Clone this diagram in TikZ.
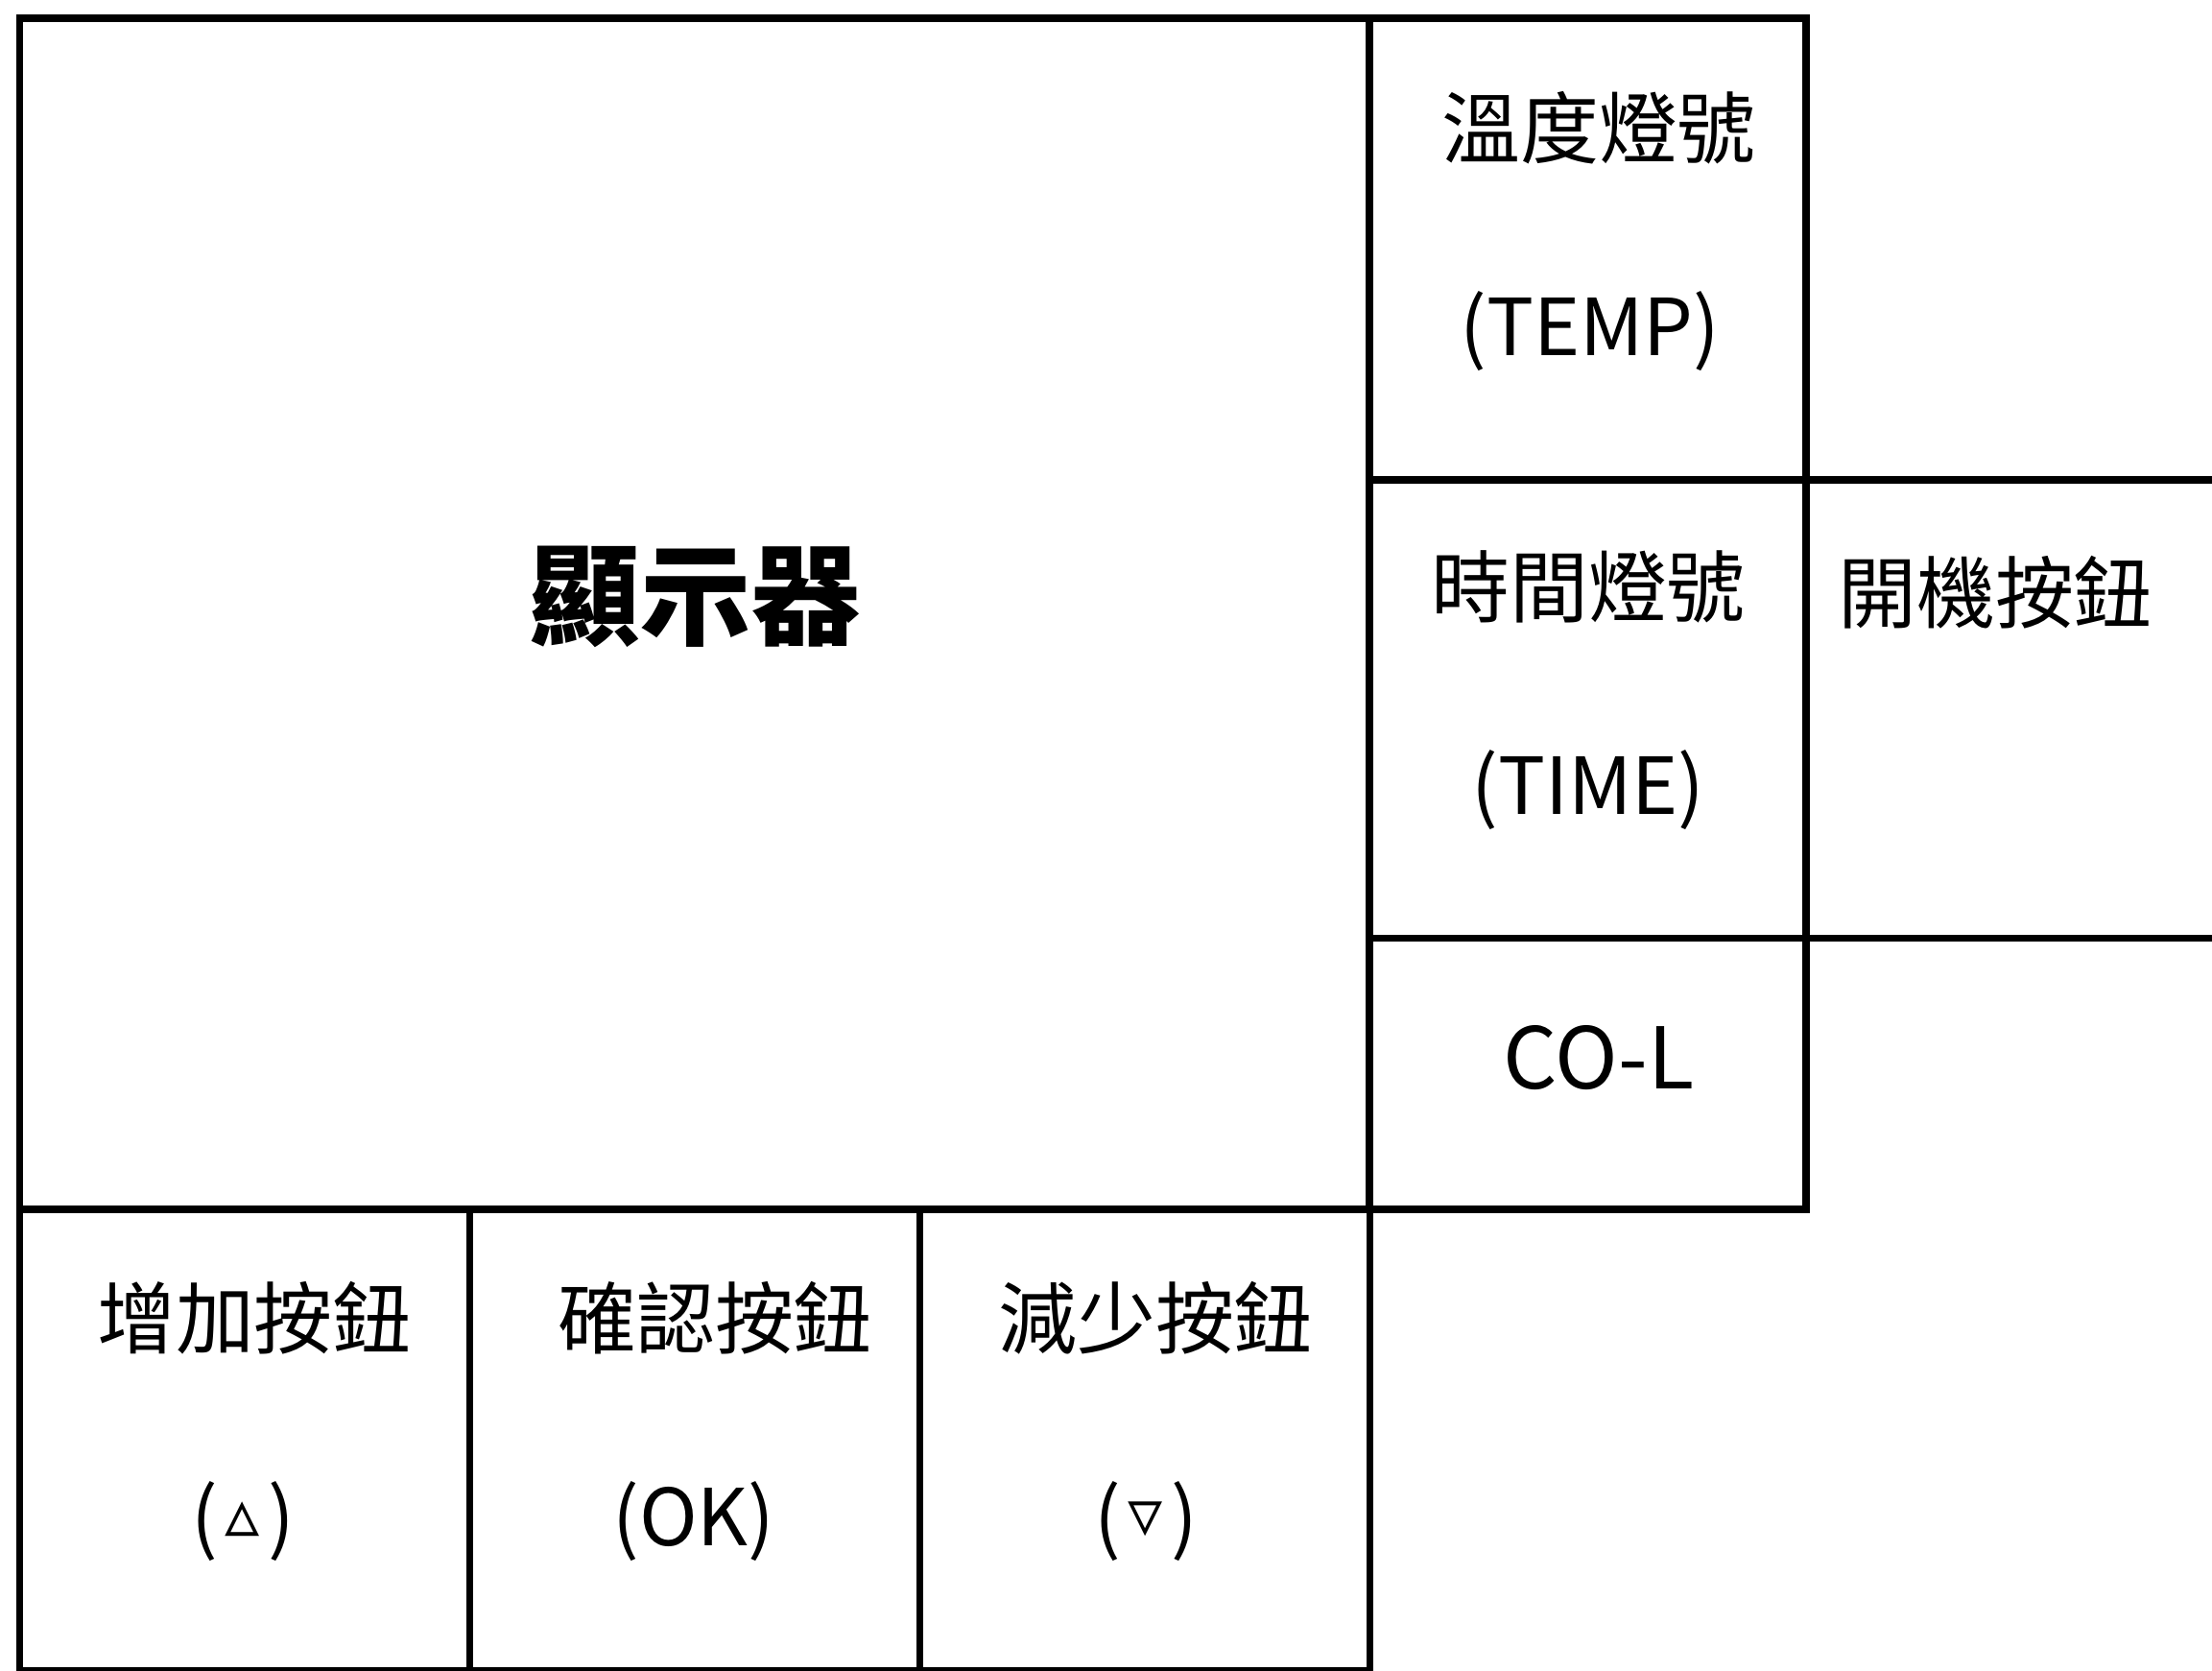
\documentclass[tikz,border=0pt]{standalone}
\usepackage{fontspec}
\setmainfont{Noto Sans CJK TC}
\newfontfamily\symfont{DejaVu Sans}
\newcommand{\smalltri}[1]{\hspace{0.08cm}\raisebox{0.12em}{\symfont\fontsize{20.5}{20.5}\selectfont #1}\hspace{0.08cm}}

\begin{document}
\begin{tikzpicture}[
	cell/.style={draw, line width=2pt, inner sep=0pt, outer sep=0pt},
	lbl/.style={align=center, inner sep=0pt, font=\fontsize{23.3}{58.8}\selectfont}
]

	% Fix the page size
	\useasboundingbox (0,0) rectangle (23.05,-17.41);

	% Draw the display
	\node[cell, minimum width=14.064cm, minimum height=12.41cm] (display) at (7.238,-6.395) {};
	\node[font=\fontsize{32.7}{40}\selectfont\bfseries] (displayTxt) at (7.25,-6.22) {顯示器};

	% Draw the indicator lights and the power button
	\node[cell, minimum width=4.55cm, minimum height=4.81cm] (temp) at (16.545,-2.595) {};
	\node[cell, minimum width=4.55cm, minimum height=4.776cm] (time) at (16.545,-7.388) {};
	\node[cell, minimum width=5.68cm, minimum height=4.776cm] (power) at (21.66,-7.388) {};
	\node[cell, minimum width=4.55cm, minimum height=2.824cm] (col) at (16.545,-11.188) {};
	\node[lbl] (tempTxt) at (16.66,-2.41) {溫度燈號\\\hspace*{-0.18cm}(TEMP)};
	\node[lbl] (timeTxt) at (16.55,-7.19) {時間燈號\\(TIME)};
	\node[lbl] (powerTxt) at (20.79,-6.17) {開機按鈕};
	\node[lbl, font=\fontsize{25.2}{30}\selectfont] (colTxt) at (16.66,-11.02) {CO-L};

	% Draw the buttons under the display
	\node[cell, minimum width=4.689cm, minimum height=4.81cm] (up) at (2.5505,-15.005) {};
	\node[cell, minimum width=4.689cm, minimum height=4.81cm] (ok) at (7.2395,-15.005) {};
	\node[cell, minimum width=4.689cm, minimum height=4.81cm] (down) at (11.927,-15.005) {};
	\node[lbl] (upTxt) at (2.65,-14.81) {增加按鈕\\\hspace*{-0.24cm}(\smalltri{▵})};
	\node[lbl] (okTxt) at (7.45,-14.81) {確認按鈕\\\hspace*{-0.44cm}(OK)};
	\node[lbl] (downTxt) at (12.04,-14.81) {減少按鈕\\\hspace*{-0.2cm}(\smalltri{▿})};

\end{tikzpicture}
\end{document}
